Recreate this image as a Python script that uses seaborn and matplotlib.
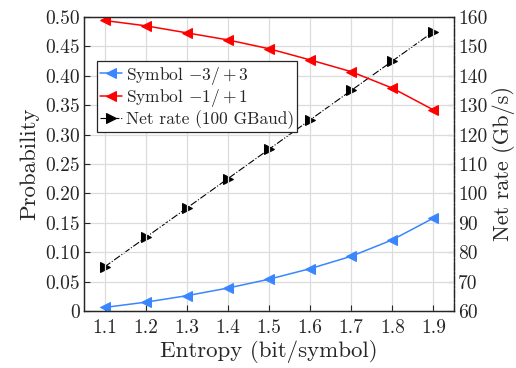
import matplotlib
matplotlib.use("Agg")
import matplotlib.pyplot as plt
import seaborn as sns
import pandas as pd
from matplotlib.ticker import FixedLocator, FuncFormatter

entropy = [1.1, 1.2, 1.3, 1.4, 1.5, 1.6, 1.7, 1.8, 1.9]
p_sym3 = [0.006, 0.015, 0.026, 0.039, 0.054, 0.072, 0.093, 0.121, 0.158]
p_sym1 = [0.494, 0.485, 0.473, 0.461, 0.446, 0.427, 0.407, 0.379, 0.342]
net_rate = [75, 85, 95, 105, 115, 125, 135, 145, 155]

left_ticks = [0, 0.05, 0.10, 0.15, 0.20, 0.25, 0.30, 0.35, 0.40, 0.45, 0.50]
right_ticks = [60, 70, 80, 90, 100, 110, 120, 130, 140, 150, 160]

sns.set_theme(style="ticks")
plt.rcParams.update({
    "font.family": "serif",
    "font.serif": ["cmr10"],
    "mathtext.fontset": "cm",
    "axes.formatter.use_mathtext": True,
    "axes.unicode_minus": True,
})

df = pd.DataFrame({"entropy": entropy, "s3": p_sym3, "s1": p_sym1, "rate": net_rate})

fig = plt.figure(figsize=(5.16, 3.68), dpi=100)
ax = fig.add_axes([0.1628, 0.1549, 0.717, 0.799])
ax2 = ax.twinx()

blue = "#3a86ff"
red = "#ff0000"

sns.lineplot(data=df, x="entropy", y="s3", ax=ax, color=blue, lw=1.1,
             marker="<", markersize=7, markeredgecolor=blue,
             label=r"Symbol $-3/+3$", legend=False)
sns.lineplot(data=df, x="entropy", y="s1", ax=ax, color=red, lw=1.1,
             marker="<", markersize=7, markeredgecolor=red,
             label=r"Symbol $-1/+1$", legend=False)
sns.lineplot(data=df, x="entropy", y="rate", ax=ax2, color="black", lw=0.8,
             linestyle="-.", marker=">", markersize=7, markeredgecolor="black",
             label="Net rate (100 GBaud)", legend=False)

ax.set_xlim(1.05, 1.95)
ax.set_ylim(0, 0.5)
ax2.set_ylim(60, 160)
ax.set_xticks(entropy)
ax.xaxis.set_major_formatter(FuncFormatter(lambda v, p: f"{v:.1f}"))
ax.yaxis.set_major_locator(FixedLocator(left_ticks))
ax.yaxis.set_major_formatter(FuncFormatter(lambda v, p: "0" if abs(v) < 1e-9 else f"{v:.2f}"))
ax2.yaxis.set_major_locator(FixedLocator(right_ticks))
ax2.yaxis.set_major_formatter(FuncFormatter(lambda v, p: f"{int(round(v))}"))

ax.grid(True, color="#dcdcdc", lw=0.9)
ax.set_axisbelow(True)
ax2.grid(False)

for a in (ax, ax2):
    for s in a.spines.values():
        s.set_color("#262626")
        s.set_linewidth(0.9)
    a.tick_params(direction="in", length=4, width=0.8, labelsize=14, colors="#262626", pad=3)
ax.tick_params(axis="x", pad=6)
ax2.spines["right"].set_linestyle((0, (6, 2, 1, 2)))
ax2.spines["right"].set_color("black")
ax.tick_params(axis="x", top=False)

ax.set_xlabel("Entropy (bit/symbol)", fontsize=16.5, color="#262626", labelpad=2)
ax.set_ylabel("Probability", fontsize=16.5, color="#262626", labelpad=4)
ax2.set_ylabel("Net rate (Gb/s)", fontsize=16, color="#262626", labelpad=3)

h1, l1 = ax.get_legend_handles_labels()
h2, l2 = ax2.get_legend_handles_labels()
leg = ax.legend(h1 + h2, l1 + l2, loc="upper left", bbox_to_anchor=(0.035, 0.85),
                borderaxespad=0, fontsize=12.5, frameon=True, fancybox=False,
                framealpha=1, edgecolor="#262626", handlelength=1.25,
                handletextpad=0.2, borderpad=0.2, labelspacing=0.05, markerscale=1.0)
leg.get_frame().set_linewidth(0.9)
leg.set_zorder(10)
ax.set_zorder(ax2.get_zorder() + 1)
ax.patch.set_visible(False)

fig.savefig("out.png", dpi=100)
